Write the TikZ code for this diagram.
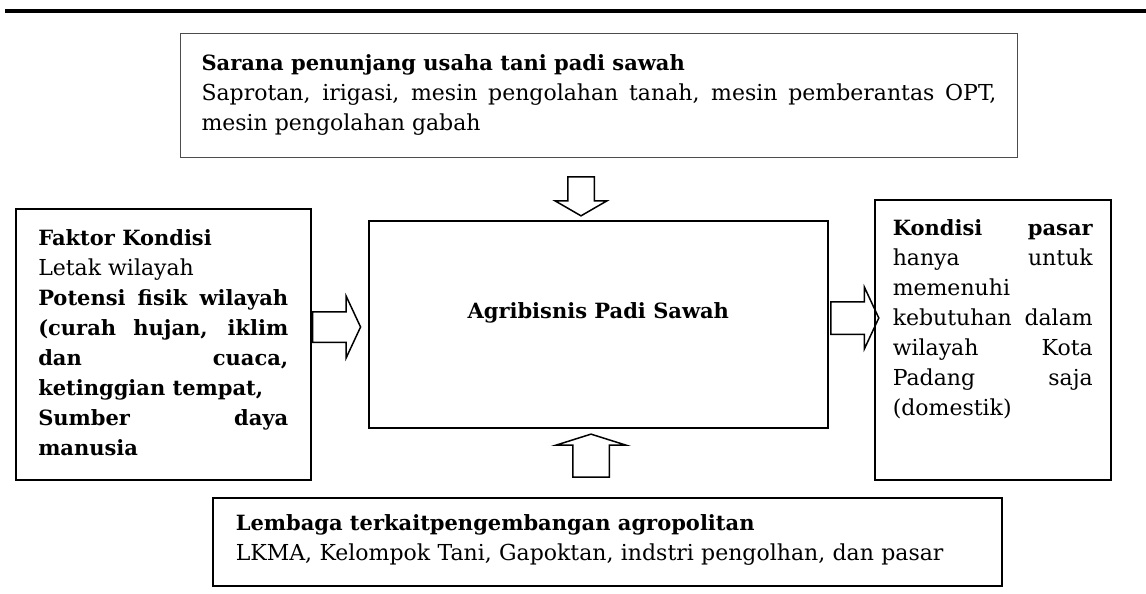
\documentclass[tikz,border=0pt]{standalone}
\usepackage{fontspec}
\setmainfont{DejaVu Serif}
\usetikzlibrary{shapes.arrows}
\tolerance=10000
\hbadness=10000
\newcommand{\hd}{\fontsize{10.5}{15}\selectfont\bfseries}
\newcommand{\tx}{\fontsize{11}{15}\selectfont\mdseries}

\tikzset{
  box/.style={draw, rectangle, line width=0.75pt, anchor=north west,
    inner xsep=0pt, inner ysep=0pt, align=justify},
  blockarr/.style={single arrow, draw, line width=0.75pt, inner sep=0pt,
    single arrow head indent=0pt, single arrow tip angle=130,
    text height=7.5pt, text depth=7.5pt, single arrow head extend=7.5pt,
    minimum height=24pt}
}

\begin{document}
\begin{tikzpicture}[x=0.5pt, y=-0.5pt, font=\tx]
  \useasboundingbox (0,0) rectangle (1146,594);

  % rule on top
  \draw[line width=2pt] (5,11) -- (1146,11);

  \node[box, draw=black!70, line width=0.5pt, minimum width=418.5pt,
        text width=397.5pt, text height=18.5pt, text depth=43.5pt] (sarana) at (180,33)
    {\hd Sarana penunjang usaha tani padi sawah\\
     \tx Saprotan, irigasi, mesin pengolahan tanah, mesin pemberantas OPT,\linebreak
     mesin pengolahan gabah};

  \node[box, minimum width=147.5pt, text width=125pt,
        text height=18.5pt, text depth=117pt] (faktor) at (15,208)
    {\hd Faktor Kondisi\\
     \tx Letak wilayah\\
     \hd Potensi fisik wilayah\linebreak (curah hujan, iklim\linebreak
     dan cuaca,\linebreak ketinggian tempat,\\
     Sumber daya\linebreak manusia};

  \node[box, align=center, minimum width=229.5pt, text width=200pt,
        text height=49pt, text depth=54.5pt] (agri) at (368,220)
    {\hd Agribisnis Padi Sawah};

  \node[box, minimum width=118pt, text width=100pt,
        text height=18pt, text depth=122pt] (pasar) at (874,199)
    {\hd Kondisi pasar\tx\linebreak hanya untuk\linebreak
     memenuhi\linebreak kebutuhan dalam\linebreak wilayah Kota\linebreak
     Padang saja\linebreak (domestik)};

  \node[box, align=left, minimum width=394.5pt, text width=371.5pt,
        text height=16.5pt, text depth=27.5pt] (lembaga) at (212,497)
    {\hd Lembaga terkaitpengembangan agropolitan\\
     \tx LKMA, Kelompok Tani, Gapoktan, indstri pengolhan, dan pasar};

  % block arrows
  \node[blockarr, rotate=-90, text height=6.25pt, text depth=6.25pt,
        single arrow head extend=6.25pt, single arrow tip angle=120,
        minimum height=19.5pt] (a-down) at (581,192.5) {};
  \node[blockarr, text height=7.25pt, text depth=7.25pt,
        single arrow head extend=7.75pt] (a-left) at (333,327) {};
  \node[blockarr, text height=7.75pt, text depth=7.75pt,
        single arrow head extend=7.25pt] (a-right) at (851,318) {};
  \node[blockarr, rotate=90, text height=8.75pt, text depth=8.75pt,
        single arrow head extend=8.5pt, single arrow tip angle=145,
        minimum height=21.5pt] (a-up) at (591,458.5) {};
\end{tikzpicture}
\end{document}
